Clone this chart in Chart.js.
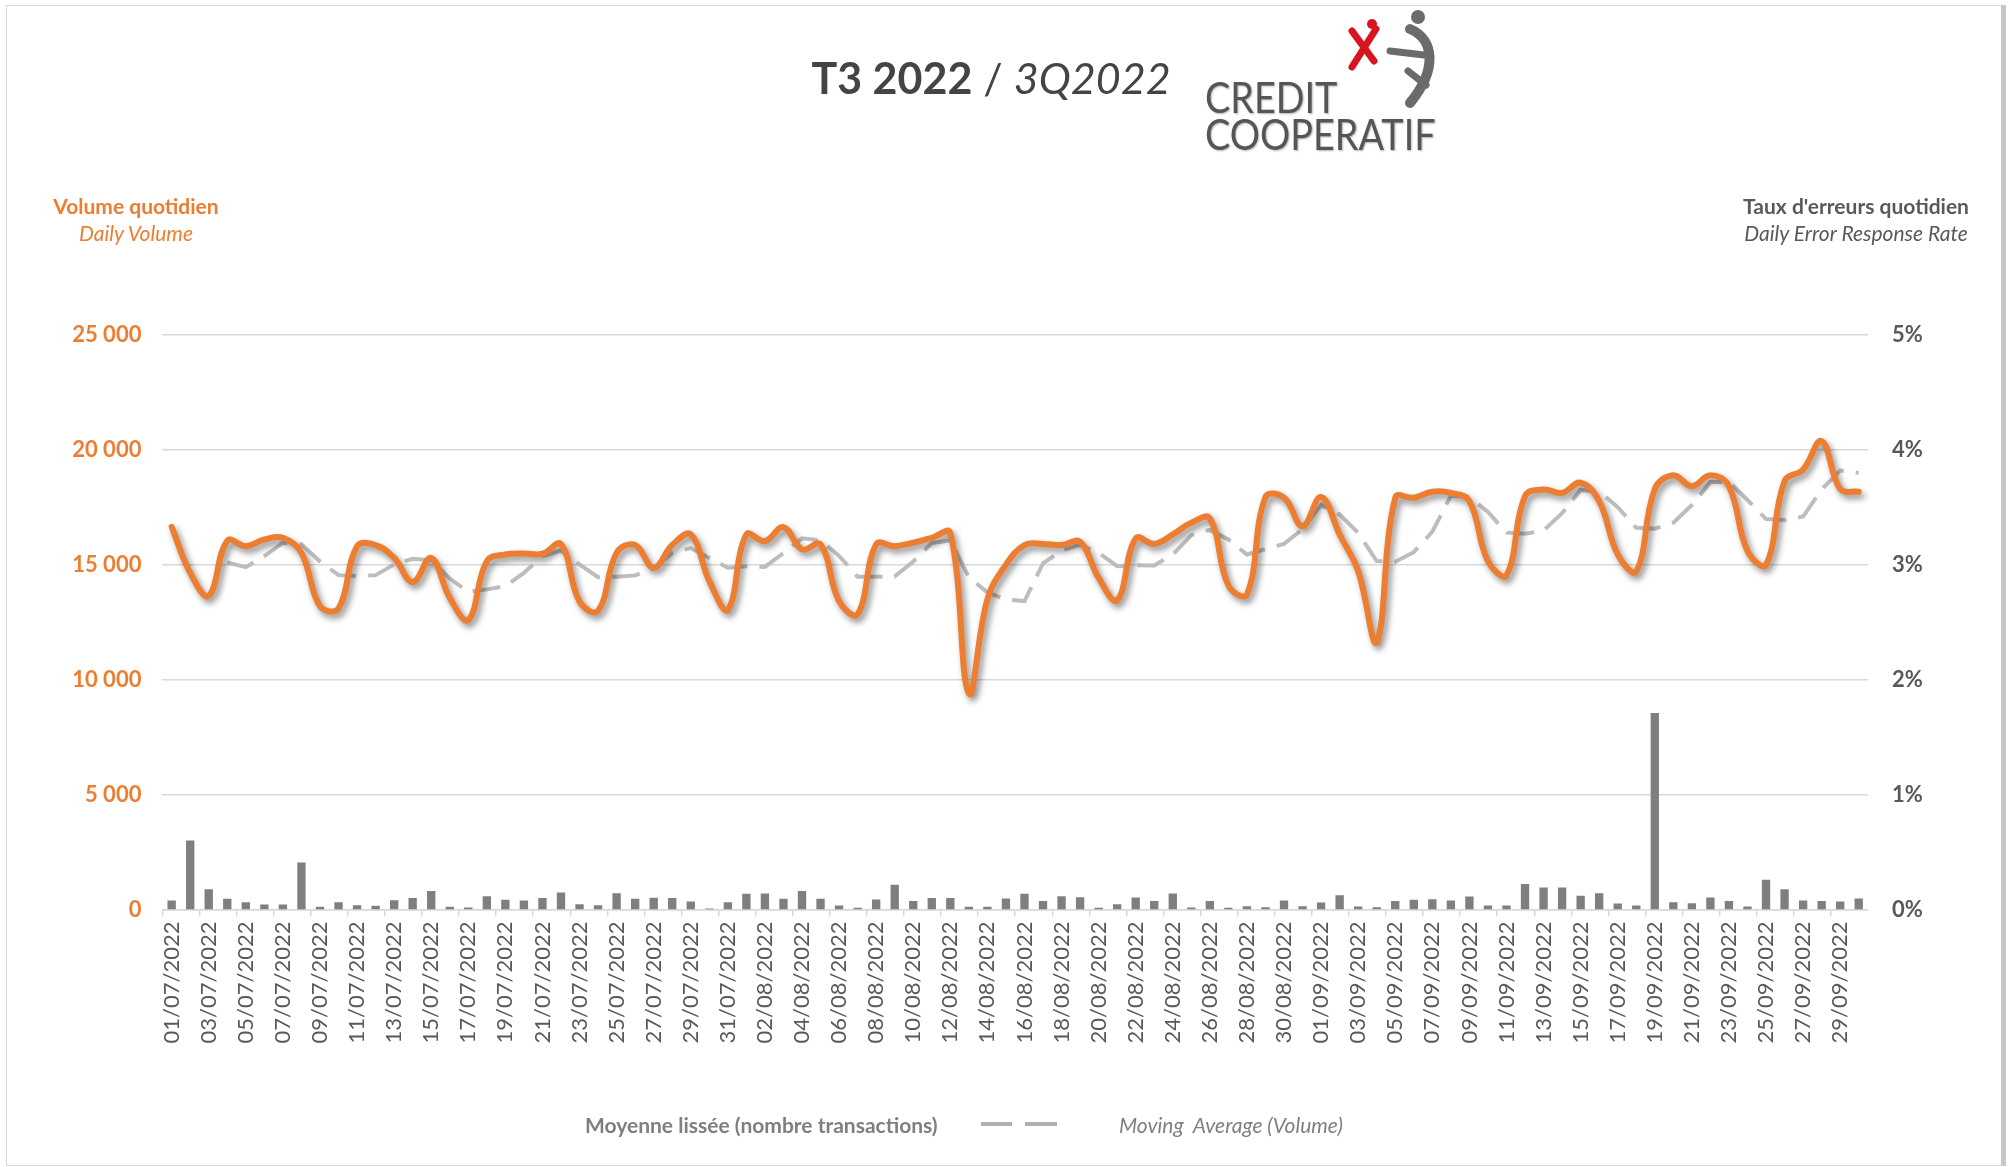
<!DOCTYPE html>
<html><head><meta charset="utf-8">
<script src="https://cdn.jsdelivr.net/npm/chart.js@4.4.0/dist/chart.umd.min.js"></script>
<style>
html,body{margin:0;padding:0;background:#fff;overflow:hidden;}
#wrap{position:relative;width:2011px;height:1167px;background:#fff;}
#c{position:absolute;left:0;top:0;}
.t{position:absolute;white-space:nowrap;font-family:Lato,'Open Sans',sans-serif;line-height:1;}
#frame{position:absolute;left:6px;top:5px;width:1994px;height:1159px;border:1px solid #d9d9d9;border-right:5px solid #c6c6c6;pointer-events:none;}
</style></head><body>
<div id="wrap">
<canvas id="c" width="2011" height="1167"></canvas>
<div id="frame"></div>
<div class="t" style="left:691px;width:600px;text-align:center;top:56px;font-size:43px;color:#444"><b>T3 2022</b> / <i>3Q2022</i></div>
<svg style="position:absolute;left:1330px;top:5px" width="120" height="110" viewBox="0 0 120 110">
  <g stroke="#d8141f" stroke-width="7" stroke-linecap="round" fill="none">
    <path d="M22 26 L44 56"/><path d="M46 24 L22 62"/>
  </g>
  <circle cx="42" cy="19" r="5" fill="#d8141f"/>
  <circle cx="88" cy="12" r="7" fill="#6b6b6b"/>
  <path d="M80 24 C104 34, 108 64, 80 98" stroke="#6b6b6b" stroke-width="10" stroke-linecap="round" fill="none"/>
  <path d="M60 46 L94 50" stroke="#6b6b6b" stroke-width="7" stroke-linecap="round" fill="none"/>
  <path d="M78 66 L96 80" stroke="#6b6b6b" stroke-width="7" stroke-linecap="round" fill="none"/>
</svg>
<div class="t" style="left:1205px;top:76px;font-size:42px;color:#555;transform:scaleX(0.9);transform-origin:0 0;text-shadow:1px 1px 2px rgba(0,0,0,0.3)">CREDIT</div>
<div class="t" style="left:1205px;top:113px;font-size:42px;color:#555;transform:scaleX(0.9);transform-origin:0 0;text-shadow:1px 1px 2px rgba(0,0,0,0.3)">COOPERATIF</div>
<div class="t" style="left:36px;width:200px;text-align:center;top:195px;font-size:21px;color:#ED7D31;font-weight:bold">Volume quotidien</div>
<div class="t" style="left:36px;width:200px;text-align:center;top:222px;font-size:21px;color:#ED7D31;font-style:italic">Daily Volume</div>
<div class="t" style="left:1706px;width:300px;text-align:center;top:195px;font-size:21px;color:#595959;font-weight:bold">Taux d'erreurs quotidien</div>
<div class="t" style="left:1706px;width:300px;text-align:center;top:222px;font-size:21px;color:#595959;font-style:italic">Daily Error Response Rate</div>
<div class="t" style="left:585px;top:1114px;font-size:21px;color:#7f7f7f;font-weight:bold">Moyenne lissée (nombre transactions)</div>
<svg style="position:absolute;left:978px;top:1118px" width="84" height="12"><path d="M3 6 L34 6 M47 6 L79 6" stroke="#b0b0b0" stroke-width="4"/></svg>
<div class="t" style="left:1119px;top:1114px;font-size:21px;color:#7f7f7f;font-style:italic">Moving&nbsp; Average (Volume)</div>
</div>
<script>
const days = [
"01/07/2022","02/07/2022","03/07/2022","04/07/2022","05/07/2022","06/07/2022","07/07/2022","08/07/2022","09/07/2022","10/07/2022",
"11/07/2022","12/07/2022","13/07/2022","14/07/2022","15/07/2022","16/07/2022","17/07/2022","18/07/2022","19/07/2022","20/07/2022",
"21/07/2022","22/07/2022","23/07/2022","24/07/2022","25/07/2022","26/07/2022","27/07/2022","28/07/2022","29/07/2022","30/07/2022","31/07/2022",
"01/08/2022","02/08/2022","03/08/2022","04/08/2022","05/08/2022","06/08/2022","07/08/2022","08/08/2022","09/08/2022","10/08/2022",
"11/08/2022","12/08/2022","13/08/2022","14/08/2022","15/08/2022","16/08/2022","17/08/2022","18/08/2022","19/08/2022","20/08/2022",
"21/08/2022","22/08/2022","23/08/2022","24/08/2022","25/08/2022","26/08/2022","27/08/2022","28/08/2022","29/08/2022","30/08/2022","31/08/2022",
"01/09/2022","02/09/2022","03/09/2022","04/09/2022","05/09/2022","06/09/2022","07/09/2022","08/09/2022","09/09/2022","10/09/2022",
"11/09/2022","12/09/2022","13/09/2022","14/09/2022","15/09/2022","16/09/2022","17/09/2022","18/09/2022","19/09/2022","20/09/2022",
"21/09/2022","22/09/2022","23/09/2022","24/09/2022","25/09/2022","26/09/2022","27/09/2022","28/09/2022","29/09/2022","30/09/2022"
];
const volume = [
16650,14650,13650,16050,15810,16100,16175,15520,13200,13100,
15810,15860,15300,14250,15300,13560,12600,15160,15450,15490,
15480,15900,13400,13000,15520,15860,14870,15860,16320,14290,13050,
16320,16030,16640,15670,15890,13420,12850,15890,15810,15960,
16175,16390,9400,13500,15010,15860,15910,15860,16000,14430,
13460,16150,15910,16320,16830,17020,14100,13710,17950,17920,16680,
17950,16320,14720,11650,17920,17920,18180,18130,17770,15160,
14550,17990,18280,18130,18570,17770,15450,14720,18300,18900,
18420,18900,18420,15600,15010,18640,19150,20380,18300,18180
];
const movingAverage = [
null,null,null,15100,14900,15380,15960,15885,15150,14550,
14510,14550,15015,15260,15200,14400,13825,13930,14070,14650,
15380,15620,15015,14460,14480,14540,14840,15520,15730,15300,14870,
14940,14910,15510,16150,16070,15390,14480,14480,14490,15145,
15945,16060,14460,13800,13490,13420,15060,15620,15880,15520,
14940,14985,14970,15450,16290,16520,16100,15450,15680,15910,16550,
17600,17190,16390,15160,15130,15550,16440,18000,17960,17300,
16400,16350,16490,17250,18260,18190,17510,16610,16570,16830,
17600,18600,18610,17820,16990,16950,17100,18280,19100,19000
];
const errorRate = [
0.078,0.60,0.177,0.093,0.064,0.044,0.044,0.41,0.023,0.064,
0.038,0.032,0.081,0.099,0.162,0.023,0.017,0.116,0.084,0.078,
0.099,0.148,0.046,0.038,0.142,0.093,0.102,0.099,0.070,0.009,0.064,
0.136,0.139,0.093,0.160,0.093,0.035,0.015,0.087,0.215,0.073,
0.099,0.099,0.023,0.023,0.096,0.136,0.075,0.116,0.107,0.015,
0.046,0.104,0.075,0.139,0.017,0.073,0.015,0.029,0.020,0.078,0.029,
0.061,0.125,0.026,0.020,0.073,0.084,0.090,0.078,0.113,0.035,
0.035,0.223,0.191,0.191,0.119,0.142,0.052,0.035,1.71,0.064,
0.055,0.104,0.073,0.026,0.258,0.177,0.078,0.073,0.070,0.096
];
const volumeTicks = {min:0, max:25000, step:5000};
const rateTicks = {min:0, max:5, step:1};

function fmt(v){ return String(v).replace(/\B(?=(\d{3})+(?!\d))/g,' '); }

const shadowPlugin = {
  id:'lineShadow',
  beforeDatasetDraw(chart,args){ if(args.index===0){const c=chart.ctx;c.save();c.shadowColor='rgba(0,0,0,0.45)';c.shadowBlur=6;c.shadowOffsetX=3;c.shadowOffsetY=4;} },
  afterDatasetDraw(chart,args){ if(args.index===0){chart.ctx.restore();} }
};

function build(){
  new Chart(document.getElementById('c').getContext('2d'), {
    data:{
      labels: days,
      datasets:[
        {type:'line', label:'Volume quotidien', data:volume, yAxisID:'y', borderColor:'#ED7D31', borderWidth:6, tension:0.4, pointRadius:0, order:0, borderCapStyle:'round', borderJoinStyle:'round', fill:false},
        {type:'line', label:'Moyenne lissée', data:movingAverage, yAxisID:'y', borderColor:'#BDBDBD', borderWidth:4, borderDash:[28,12], tension:0, pointRadius:0, order:1, fill:false},
        {type:'bar', label:"Taux d'erreurs", data:errorRate, yAxisID:'y1', backgroundColor:'#7F7F7F', barPercentage:0.45, categoryPercentage:1, order:2}
      ]
    },
    options:{
      responsive:false, animation:false, devicePixelRatio:1,
      layout:{padding:{top:335,left:0,right:0,bottom:0}},
      plugins:{legend:{display:false}, tooltip:{enabled:false}, title:{display:false}},
      scales:{
        x:{ type:'category', offset:true,
            grid:{offset:true, drawOnChartArea:false, tickLength:7, lineWidth:1.5, color:(c)=> (c.index%2===0?'#d9d9d9':'rgba(0,0,0,0)')},
            border:{color:'#d9d9d9', width:1.5},
            ticks:{autoSkip:false, maxRotation:90, minRotation:90, padding:5, color:'#595959', font:{family:'Lato', size:22},
                   callback:function(v,i){return i%2===0?this.getLabelForValue(v):'';}},
            afterFit:(s)=>{s.height=257.5;} },
        y:{ position:'left', min:volumeTicks.min, max:volumeTicks.max,
            ticks:{stepSize:volumeTicks.step, padding:21, color:'#ED7D31', font:{family:'Lato', size:22, weight:'bold'}, callback:(v)=>fmt(v)},
            grid:{color:'#d9d9d9', lineWidth:1.5, drawTicks:false},
            border:{display:false},
            afterFit:(s)=>{s.width=162.4;} },
        y1:{ position:'right', min:rateTicks.min, max:rateTicks.max,
            ticks:{stepSize:rateTicks.step, padding:24, color:'#595959', font:{family:'Lato', size:22, weight:'bold'}, callback:(v)=>v+'%'},
            grid:{display:false, drawTicks:false},
            border:{display:false},
            afterFit:(s)=>{s.width=143;} }
      }
    },
    plugins:[shadowPlugin]
  });
}
Promise.all([
  document.fonts.load('22px Lato'), document.fonts.load('bold 22px Lato'), document.fonts.load('italic 22px Lato')
]).then(build, build);
</script>
</body></html>
